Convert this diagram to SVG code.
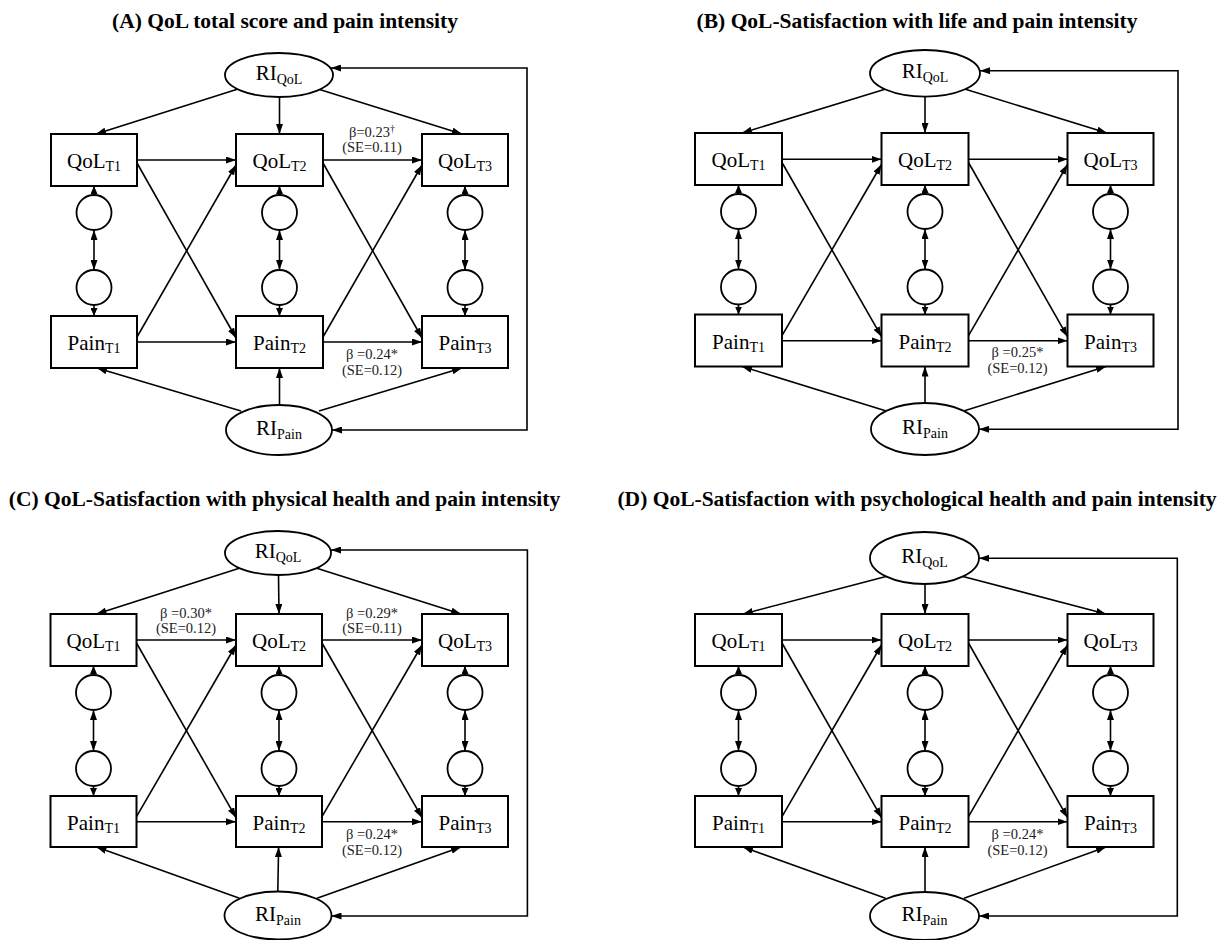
<svg xmlns="http://www.w3.org/2000/svg" width="1227" height="940" viewBox="0 0 1227 940">
<style>
.box{fill:#fff;stroke:#000;stroke-width:2}
.lat{fill:#fff;stroke:#000;stroke-width:1.8}
.res{fill:#fff;stroke:#000;stroke-width:1.8}
.e{fill:none;stroke:#000;stroke-width:1.6;marker-end:url(#ah)}
.r{fill:none;stroke:#000;stroke-width:1.6;marker-end:url(#ahs)}
.d{fill:none;stroke:#000;stroke-width:1.6;marker-start:url(#ah);marker-end:url(#ah)}
text{font-family:"Liberation Serif","Times New Roman",serif;text-anchor:middle;fill:#000}
.lab{font-size:21px}
.sub{font-size:14px}
.coef{font-size:14.5px;fill:#222}
.title{font-size:21.5px;font-weight:bold}
</style>
<defs>
<marker id="ah" viewBox="0 0 10 7" refX="10" refY="3.5" markerWidth="10" markerHeight="7" markerUnits="userSpaceOnUse" orient="auto-start-reverse"><path d="M0,0L10,3.5L0,7z"/></marker>
<marker id="ahs" viewBox="0 0 8 7" refX="8" refY="3.5" markerWidth="8" markerHeight="7" markerUnits="userSpaceOnUse" orient="auto-start-reverse"><path d="M0,0L8,3.5L0,7z"/></marker>
</defs>
<rect width="1227" height="940" fill="#fff"/>

<g id="titles">
<text class="title" x="285" y="28">(A) QoL total score and pain intensity</text>
<text class="title" x="917" y="28">(B) QoL-Satisfaction with life and pain intensity</text>
<text class="title" x="284.5" y="506">(C) QoL-Satisfaction with physical health and pain intensity</text>
<text class="title" x="917" y="506">(D) QoL-Satisfaction with psychological health and pain intensity</text>
</g>

<g id="connectors">
<!-- Panel A -->
<path class="e" d="M238,89L96,134"/>
<path class="e" d="M279.5,97L279.5,134"/>
<path class="e" d="M318,89L462,134"/>
<path class="e" d="M137,160L236,160"/>
<path class="e" d="M323,160L422,160"/>
<path class="e" d="M137,342L236,342"/>
<path class="e" d="M323,342L422,342"/>
<path class="e" d="M137,163L236,338"/>
<path class="e" d="M137,337L236,165"/>
<path class="e" d="M323,163L422,338"/>
<path class="e" d="M323,337L422,165"/>
<path class="r" d="M94,195L94,186"/><path class="r" d="M94,305L94,316"/><path class="d" d="M94,230L94,270"/>
<path class="r" d="M279.5,195L279.5,186"/><path class="r" d="M279.5,305L279.5,316"/><path class="d" d="M279.5,230L279.5,270"/>
<path class="r" d="M465,195L465,186"/><path class="r" d="M465,305L465,316"/><path class="d" d="M465,230L465,270"/>
<path class="e" d="M241,411L97,368"/>
<path class="e" d="M279.5,405L279.5,368"/>
<path class="e" d="M319,411L462,368"/>
<path class="d" d="M331,68H527V430H332"/>

<!-- Panel B -->
<path class="e" d="M885,89.3L742,133"/>
<path class="e" d="M925,96.6L925,133"/>
<path class="e" d="M965.5,89.3L1107,133"/>
<path class="e" d="M782,159.3L881.5,159.3"/>
<path class="e" d="M968.5,159.3L1067.5,159.3"/>
<path class="e" d="M782,340.7L881.5,340.7"/>
<path class="e" d="M968.5,340.7L1067.5,340.7"/>
<path class="e" d="M782,162.5L881.5,336.7"/>
<path class="e" d="M782,335.7L881.5,164.5"/>
<path class="e" d="M968.5,162.5L1067.5,336.7"/>
<path class="e" d="M968.5,335.7L1067.5,164.5"/>
<path class="r" d="M738.5,194L738.5,185"/><path class="r" d="M738.5,304.5L738.5,314.5"/><path class="d" d="M738.5,229L738.5,269.5"/>
<path class="r" d="M925,194L925,185"/><path class="r" d="M925,304.5L925,314.5"/><path class="d" d="M925,229L925,269.5"/>
<path class="r" d="M1110.5,194L1110.5,185"/><path class="r" d="M1110.5,304.5L1110.5,314.5"/><path class="d" d="M1110.5,229L1110.5,269.5"/>
<path class="e" d="M885.5,410.7L742,366.5"/>
<path class="e" d="M925,403L925,366.5"/>
<path class="e" d="M964.5,410.7L1106,366.5"/>
<path class="d" d="M980,70.7H1178V429.3H979"/>

<!-- Panel C -->
<path class="e" d="M240,568L96.5,614"/>
<path class="e" d="M278.5,575L279,614"/>
<path class="e" d="M316,568L461,614"/>
<path class="e" d="M136.5,640L236,640"/>
<path class="e" d="M322,640L422,640"/>
<path class="e" d="M136.5,821.7L236,821.7"/>
<path class="e" d="M322,821.7L422,821.7"/>
<path class="e" d="M136.5,643L236,817.7"/>
<path class="e" d="M136.5,816.7L236,645"/>
<path class="e" d="M322,643L422,817.7"/>
<path class="e" d="M322,816.7L422,645"/>
<path class="r" d="M93.5,675L93.5,666"/><path class="r" d="M93.5,786L93.5,796"/><path class="d" d="M93.5,710L93.5,751"/>
<path class="r" d="M279,675L279,666"/><path class="r" d="M279,786L279,796"/><path class="d" d="M279,710L279,751"/>
<path class="r" d="M465,675L465,666"/><path class="r" d="M465,786L465,796"/><path class="d" d="M465,710L465,751"/>
<path class="e" d="M239.5,898.3L96.5,847"/>
<path class="e" d="M277.8,891.5L278.6,847"/>
<path class="e" d="M317,898.3L461,847"/>
<path class="d" d="M331,550H527.4V916H331.5"/>

<!-- Panel D -->
<path class="e" d="M886,576.5L743,614"/>
<path class="e" d="M925,584L925,614"/>
<path class="e" d="M963,576.5L1106,614"/>
<path class="e" d="M782,640L881.5,640"/>
<path class="e" d="M968.5,640L1067.5,640"/>
<path class="e" d="M782,821.7L881.5,821.7"/>
<path class="e" d="M968.5,821.7L1067.5,821.7"/>
<path class="e" d="M782,643L881.5,817.7"/>
<path class="e" d="M782,816.7L881.5,645"/>
<path class="e" d="M968.5,643L1067.5,817.7"/>
<path class="e" d="M968.5,816.7L1067.5,645"/>
<path class="r" d="M738.5,675L738.5,666"/><path class="r" d="M738.5,786L738.5,796"/><path class="d" d="M738.5,710L738.5,751"/>
<path class="r" d="M925,675L925,666"/><path class="r" d="M925,786L925,796"/><path class="d" d="M925,710L925,751"/>
<path class="r" d="M1110.5,675L1110.5,666"/><path class="r" d="M1110.5,786L1110.5,796"/><path class="d" d="M1110.5,710L1110.5,751"/>
<path class="e" d="M885.5,898.3L743,847"/>
<path class="e" d="M925,892L925,847"/>
<path class="e" d="M964,898.3L1106,847"/>
<path class="d" d="M979,558.3H1177.3V916H979"/>
</g>

<g id="coefficients">
<text class="coef" x="372" y="137">β=0.23<tspan font-size="10" dy="-5">†</tspan></text>
<text class="coef" x="372" y="152">(SE=0.11)</text>
<text class="coef" x="372" y="359">β =0.24*</text>
<text class="coef" x="372" y="375">(SE=0.12)</text>
<text class="coef" x="1017.5" y="357">β =0.25*</text>
<text class="coef" x="1017.5" y="373">(SE=0.12)</text>
<text class="coef" x="186" y="618">β =0.30*</text>
<text class="coef" x="186" y="633">(SE=0.12)</text>
<text class="coef" x="372" y="618">β =0.29*</text>
<text class="coef" x="372" y="633">(SE=0.11)</text>
<text class="coef" x="372" y="839">β =0.24*</text>
<text class="coef" x="372" y="855">(SE=0.12)</text>
<text class="coef" x="1017.5" y="839">β =0.24*</text>
<text class="coef" x="1017.5" y="855">(SE=0.12)</text>
</g>

<!-- Panel A nodes -->
<g id="A_RI_QoL"><ellipse class="lat" cx="279" cy="75" rx="54" ry="22"/><text class="lab" x="279" y="80">RI<tspan class="sub" dy="4">QoL</tspan></text></g>
<g id="A_RI_Pain"><ellipse class="lat" cx="279" cy="430" rx="53" ry="25"/><text class="lab" x="279" y="435">RI<tspan class="sub" dy="4">Pain</tspan></text></g>
<g id="A_QoL_T1"><rect class="box" x="51" y="134" width="86" height="52"/><text class="lab" x="94" y="168">QoL<tspan class="sub" dy="3">T1</tspan></text></g>
<g id="A_QoL_T2"><rect class="box" x="236" y="134" width="87" height="52"/><text class="lab" x="279.5" y="168">QoL<tspan class="sub" dy="3">T2</tspan></text></g>
<g id="A_QoL_T3"><rect class="box" x="422" y="134" width="86" height="52"/><text class="lab" x="465" y="168">QoL<tspan class="sub" dy="3">T3</tspan></text></g>
<g id="A_Pain_T1"><rect class="box" x="51" y="316" width="86" height="52"/><text class="lab" x="94" y="350">Pain<tspan class="sub" dy="3">T1</tspan></text></g>
<g id="A_Pain_T2"><rect class="box" x="236" y="316" width="87" height="52"/><text class="lab" x="279.5" y="350">Pain<tspan class="sub" dy="3">T2</tspan></text></g>
<g id="A_Pain_T3"><rect class="box" x="422" y="316" width="86" height="52"/><text class="lab" x="465" y="350">Pain<tspan class="sub" dy="3">T3</tspan></text></g>
<g id="A_eQ1"><circle class="res" cx="94" cy="212.5" r="17.5"/></g>
<g id="A_eQ2"><circle class="res" cx="279.5" cy="212.5" r="17.5"/></g>
<g id="A_eQ3"><circle class="res" cx="465" cy="212.5" r="17.5"/></g>
<g id="A_eP1"><circle class="res" cx="94" cy="287.5" r="17.5"/></g>
<g id="A_eP2"><circle class="res" cx="279.5" cy="287.5" r="17.5"/></g>
<g id="A_eP3"><circle class="res" cx="465" cy="287.5" r="17.5"/></g>

<!-- Panel B nodes -->
<g id="B_RI_QoL"><ellipse class="lat" cx="925" cy="73.3" rx="55" ry="23.3"/><text class="lab" x="925" y="78.3">RI<tspan class="sub" dy="4">QoL</tspan></text></g>
<g id="B_RI_Pain"><ellipse class="lat" cx="925" cy="429" rx="54" ry="26"/><text class="lab" x="925" y="434">RI<tspan class="sub" dy="4">Pain</tspan></text></g>
<g id="B_QoL_T1"><rect class="box" x="695" y="133" width="87" height="52"/><text class="lab" x="738.5" y="167">QoL<tspan class="sub" dy="3">T1</tspan></text></g>
<g id="B_QoL_T2"><rect class="box" x="881.5" y="133" width="87" height="52"/><text class="lab" x="925" y="167">QoL<tspan class="sub" dy="3">T2</tspan></text></g>
<g id="B_QoL_T3"><rect class="box" x="1067.5" y="133" width="86" height="52"/><text class="lab" x="1110.5" y="167">QoL<tspan class="sub" dy="3">T3</tspan></text></g>
<g id="B_Pain_T1"><rect class="box" x="695" y="314.5" width="87" height="52"/><text class="lab" x="738.5" y="348.5">Pain<tspan class="sub" dy="3">T1</tspan></text></g>
<g id="B_Pain_T2"><rect class="box" x="881.5" y="314.5" width="87" height="52"/><text class="lab" x="925" y="348.5">Pain<tspan class="sub" dy="3">T2</tspan></text></g>
<g id="B_Pain_T3"><rect class="box" x="1067.5" y="314.5" width="86" height="52"/><text class="lab" x="1110.5" y="348.5">Pain<tspan class="sub" dy="3">T3</tspan></text></g>
<g id="B_eQ1"><circle class="res" cx="738.5" cy="211.5" r="17.5"/></g>
<g id="B_eQ2"><circle class="res" cx="925" cy="211.5" r="17.5"/></g>
<g id="B_eQ3"><circle class="res" cx="1110.5" cy="211.5" r="17.5"/></g>
<g id="B_eP1"><circle class="res" cx="738.5" cy="287" r="17.5"/></g>
<g id="B_eP2"><circle class="res" cx="925" cy="287" r="17.5"/></g>
<g id="B_eP3"><circle class="res" cx="1110.5" cy="287" r="17.5"/></g>

<!-- Panel C nodes -->
<g id="C_RI_QoL"><ellipse class="lat" cx="278" cy="553" rx="53" ry="22"/><text class="lab" x="278" y="558">RI<tspan class="sub" dy="4">QoL</tspan></text></g>
<g id="C_RI_Pain"><ellipse class="lat" cx="278" cy="915.5" rx="53.5" ry="24"/><text class="lab" x="278" y="920.5">RI<tspan class="sub" dy="4">Pain</tspan></text></g>
<g id="C_QoL_T1"><rect class="box" x="50.5" y="614" width="86" height="52"/><text class="lab" x="93.5" y="648">QoL<tspan class="sub" dy="3">T1</tspan></text></g>
<g id="C_QoL_T2"><rect class="box" x="236" y="614" width="86" height="52"/><text class="lab" x="279" y="648">QoL<tspan class="sub" dy="3">T2</tspan></text></g>
<g id="C_QoL_T3"><rect class="box" x="422" y="614" width="86" height="52"/><text class="lab" x="465" y="648">QoL<tspan class="sub" dy="3">T3</tspan></text></g>
<g id="C_Pain_T1"><rect class="box" x="50.5" y="796" width="86" height="51"/><text class="lab" x="93.5" y="829.5">Pain<tspan class="sub" dy="3">T1</tspan></text></g>
<g id="C_Pain_T2"><rect class="box" x="236" y="796" width="86" height="51"/><text class="lab" x="279" y="829.5">Pain<tspan class="sub" dy="3">T2</tspan></text></g>
<g id="C_Pain_T3"><rect class="box" x="422" y="796" width="86" height="51"/><text class="lab" x="465" y="829.5">Pain<tspan class="sub" dy="3">T3</tspan></text></g>
<g id="C_eQ1"><circle class="res" cx="93.5" cy="692.5" r="17.5"/></g>
<g id="C_eQ2"><circle class="res" cx="279" cy="692.5" r="17.5"/></g>
<g id="C_eQ3"><circle class="res" cx="465" cy="692.5" r="17.5"/></g>
<g id="C_eP1"><circle class="res" cx="93.5" cy="768.5" r="17.5"/></g>
<g id="C_eP2"><circle class="res" cx="279" cy="768.5" r="17.5"/></g>
<g id="C_eP3"><circle class="res" cx="465" cy="768.5" r="17.5"/></g>

<!-- Panel D nodes -->
<g id="D_RI_QoL"><ellipse class="lat" cx="924.5" cy="558" rx="54.5" ry="26"/><text class="lab" x="924.5" y="563">RI<tspan class="sub" dy="4">QoL</tspan></text></g>
<g id="D_RI_Pain"><ellipse class="lat" cx="924.5" cy="916" rx="54.5" ry="24"/><text class="lab" x="924.5" y="921">RI<tspan class="sub" dy="4">Pain</tspan></text></g>
<g id="D_QoL_T1"><rect class="box" x="695" y="614" width="87" height="52"/><text class="lab" x="738.5" y="648">QoL<tspan class="sub" dy="3">T1</tspan></text></g>
<g id="D_QoL_T2"><rect class="box" x="881.5" y="614" width="87" height="52"/><text class="lab" x="925" y="648">QoL<tspan class="sub" dy="3">T2</tspan></text></g>
<g id="D_QoL_T3"><rect class="box" x="1067.5" y="614" width="86" height="52"/><text class="lab" x="1110.5" y="648">QoL<tspan class="sub" dy="3">T3</tspan></text></g>
<g id="D_Pain_T1"><rect class="box" x="695" y="796" width="87" height="51"/><text class="lab" x="738.5" y="829.5">Pain<tspan class="sub" dy="3">T1</tspan></text></g>
<g id="D_Pain_T2"><rect class="box" x="881.5" y="796" width="87" height="51"/><text class="lab" x="925" y="829.5">Pain<tspan class="sub" dy="3">T2</tspan></text></g>
<g id="D_Pain_T3"><rect class="box" x="1067.5" y="796" width="86" height="51"/><text class="lab" x="1110.5" y="829.5">Pain<tspan class="sub" dy="3">T3</tspan></text></g>
<g id="D_eQ1"><circle class="res" cx="738.5" cy="692.5" r="17.5"/></g>
<g id="D_eQ2"><circle class="res" cx="925" cy="692.5" r="17.5"/></g>
<g id="D_eQ3"><circle class="res" cx="1110.5" cy="692.5" r="17.5"/></g>
<g id="D_eP1"><circle class="res" cx="738.5" cy="768.5" r="17.5"/></g>
<g id="D_eP2"><circle class="res" cx="925" cy="768.5" r="17.5"/></g>
<g id="D_eP3"><circle class="res" cx="1110.5" cy="768.5" r="17.5"/></g>
</svg>
